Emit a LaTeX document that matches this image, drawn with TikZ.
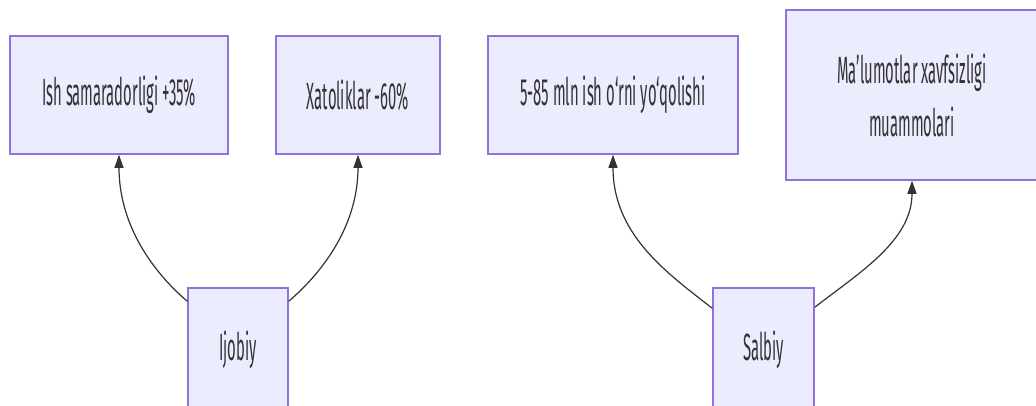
\documentclass[tikz,border=0pt]{standalone}
\usepackage{fontspec}
\setmainfont[FakeStretch=0.39]{Fira Sans}
\usetikzlibrary{arrows.meta}
\definecolor{boxfill}{HTML}{ECECFF}
\definecolor{boxline}{HTML}{9370DB}
\definecolor{linkcol}{HTML}{333333}
\tikzset{
  box/.style={draw=boxline, fill=boxfill, line width=1.5pt, inner sep=0pt,
    align=center, text=linkcol, font=\fontsize{38}{53}\selectfont},
  link/.style={draw=linkcol, line width=1.2pt, -{Triangle[length=13pt,width=9pt]}}
}
\begin{document}
\begin{tikzpicture}[x=1pt,y=-1pt]
\useasboundingbox[fill=white] (0,0) rectangle (1036,405);
\node[box, minimum width=218pt, minimum height=118pt] (b1) at (119,95) {Ish samaradorligi +35\%};
\node[box, minimum width=164pt, minimum height=118pt] (b2) at (358,95) {Xatoliklar -60\%};
\node[box, minimum width=250pt, minimum height=118pt] (b3) at (613,95) {5-85 mln ish o‘rni yo‘qolishi};
\node[box, minimum width=252pt, minimum height=170pt] (b4) at (912,95) {Ma'lumotlar xavfsizligi\\muammolari};
\node[box, minimum width=100pt, minimum height=124pt] (ij) at (238,350) {Ijobiy};
\node[box, minimum width=101pt, minimum height=124pt] (sa) at (763.5,350) {Salbiy};
\draw[link] ([yshift=-14pt]ij.north west) .. controls +(-35,-30) and +(0,70) .. (b1.south);
\draw[link] ([yshift=-14pt]ij.north east) .. controls +(35,-30) and +(0,70) .. (b2.south);
\draw[link] ([yshift=-21pt]sa.north west) .. controls +(-45,-35) and +(0,80) .. (b3.south);
\draw[link] ([yshift=-20pt]sa.north east) .. controls +(45,-35) and +(0,60) .. (b4.south);
\end{tikzpicture}
\end{document}
